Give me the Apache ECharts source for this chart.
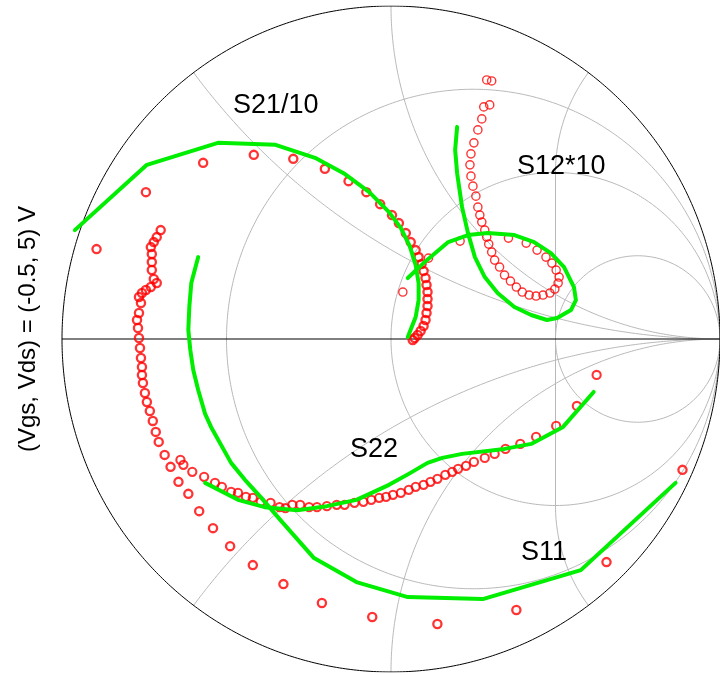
<!DOCTYPE html>
<html>
<head>
<meta charset="utf-8">
<script src="https://cdn.jsdelivr.net/npm/echarts@6/dist/echarts.min.js"></script>
<style>
  html, body { margin: 0; padding: 0; background: #ffffff; }
  #chart { width: 720px; height: 675px; }
</style>
</head>
<body>
<div id="chart"></div>
<script>
// Smith chart grid: normalized resistance circles and reactance arcs
const resistanceCircles = [1 / 3, 1, 3];
// each reactance arc runs from r = 0 up to rMax
const reactanceArcs = [0.5, 1, 2, -0.5, -1, -2];
const reactanceArcEnd = [Infinity, Infinity, 1, Infinity, Infinity, 1];
// straight guide Re(Gamma) = 0.5 joining the truncated |x| = 2 arcs
const guideRe = 0.5;
const guideIm = [-0.5, 0.5];

// Reflection coefficients [re, im] : measured points
const s11Meas = [
  [0.886, -0.393], [0.655, -0.670], [0.381, -0.814], [0.141, -0.856], [-0.057, -0.835],
  [-0.210, -0.793], [-0.327, -0.736], [-0.420, -0.679], [-0.489, -0.622], [-0.541, -0.568],
  [-0.583, -0.517], [-0.616, -0.465], [-0.646, -0.429], [-0.670, -0.384], [-0.688, -0.348],
  [-0.706, -0.309], [-0.715, -0.279], [-0.724, -0.246], [-0.733, -0.216], [-0.742, -0.189],
  [-0.748, -0.162], [-0.754, -0.132], [-0.757, -0.108], [-0.757, -0.084], [-0.760, -0.057],
  [-0.763, -0.027], [-0.766, 0.003], [-0.769, 0.033], [-0.772, 0.057], [-0.766, 0.078],
  [-0.760, 0.108], [-0.766, 0.126], [-0.757, 0.138], [-0.745, 0.147], [-0.730, 0.156],
  [-0.712, 0.168], [-0.721, 0.180], [-0.727, 0.207], [-0.727, 0.231], [-0.727, 0.255],
  [-0.730, 0.276], [-0.721, 0.291], [-0.712, 0.306], [-0.700, 0.327]
];
const s22Meas = [
  [0.625, -0.108], [0.565, -0.201], [0.502, -0.261], [0.441, -0.294], [0.393, -0.315],
  [0.348, -0.330], [0.315, -0.345], [0.285, -0.357], [0.252, -0.369], [0.228, -0.381],
  [0.204, -0.390], [0.186, -0.399], [0.165, -0.408], [0.141, -0.420], [0.120, -0.429],
  [0.099, -0.438], [0.075, -0.444], [0.054, -0.453], [0.030, -0.462], [0.006, -0.468],
  [-0.015, -0.474], [-0.036, -0.477], [-0.060, -0.483], [-0.084, -0.489], [-0.111, -0.492],
  [-0.141, -0.498], [-0.165, -0.498], [-0.195, -0.502], [-0.225, -0.505], [-0.249, -0.505],
  [-0.276, -0.498], [-0.300, -0.498], [-0.321, -0.508], [-0.339, -0.505], [-0.366, -0.492],
  [-0.396, -0.489], [-0.420, -0.477], [-0.441, -0.474], [-0.465, -0.462], [-0.486, -0.459],
  [-0.514, -0.444], [-0.535, -0.432], [-0.568, -0.414], [-0.604, -0.399], [-0.631, -0.378],
  [-0.640, -0.363]
];
const s21Meas = [
  [-0.895, 0.270], [-0.745, 0.441], [-0.571, 0.529], [-0.417, 0.553], [-0.297, 0.541],
  [-0.201, 0.511], [-0.129, 0.474], [-0.075, 0.441], [-0.033, 0.405], [0.003, 0.372],
  [0.024, 0.348], [0.045, 0.318], [0.060, 0.291], [0.075, 0.267], [0.084, 0.246],
  [0.093, 0.225], [0.099, 0.204], [0.105, 0.183], [0.108, 0.162], [0.111, 0.141],
  [0.111, 0.120], [0.111, 0.099], [0.108, 0.078], [0.105, 0.057], [0.099, 0.039],
  [0.090, 0.024], [0.081, 0.012], [0.072, 0.003], [0.066, -0.003]
];
const s12Meas = [
  [0.036, 0.141], [0.114, 0.243], [0.210, 0.294], [0.357, 0.303], [0.411, 0.288],
  [0.444, 0.267], [0.471, 0.246], [0.489, 0.228], [0.502, 0.207], [0.511, 0.186],
  [0.508, 0.168], [0.498, 0.150], [0.483, 0.138], [0.462, 0.132], [0.441, 0.129],
  [0.420, 0.132], [0.399, 0.141], [0.381, 0.156], [0.363, 0.174], [0.345, 0.192],
  [0.330, 0.216], [0.315, 0.237], [0.306, 0.261], [0.297, 0.285], [0.291, 0.306],
  [0.285, 0.327], [0.276, 0.351], [0.270, 0.372], [0.264, 0.396], [0.258, 0.429],
  [0.249, 0.459], [0.243, 0.489], [0.240, 0.523], [0.243, 0.556], [0.252, 0.589],
  [0.264, 0.628], [0.276, 0.661], [0.282, 0.697], [0.300, 0.703], [0.291, 0.778],
  [0.306, 0.775]
];

// Reflection coefficients [re, im] : model curves
const s11Model = [
  [0.865, -0.432], [0.577, -0.694], [0.279, -0.781], [0.051, -0.775], [-0.105, -0.730],
  [-0.234, -0.658], [-0.336, -0.544], [-0.396, -0.475], [-0.444, -0.423], [-0.486, -0.372],
  [-0.547, -0.264], [-0.565, -0.225], [-0.586, -0.153], [-0.601, -0.093], [-0.610, -0.033],
  [-0.616, 0.027], [-0.613, 0.096], [-0.607, 0.168], [-0.586, 0.246]
];
const s22Model = [
  [0.616, -0.159], [0.523, -0.264], [0.426, -0.315], [0.345, -0.330], [0.216, -0.345],
  [0.156, -0.357], [0.111, -0.372], [0.054, -0.405], [-0.006, -0.438], [-0.105, -0.483],
  [-0.195, -0.502], [-0.285, -0.514], [-0.384, -0.505], [-0.465, -0.483], [-0.565, -0.432]
];
const s21Model = [
  [-0.961, 0.327], [-0.742, 0.523], [-0.526, 0.589], [-0.351, 0.583], [-0.231, 0.544],
  [-0.144, 0.498], [-0.066, 0.441], [-0.006, 0.381], [0.030, 0.333], [0.057, 0.279],
  [0.075, 0.222], [0.084, 0.168], [0.084, 0.117], [0.075, 0.066], [0.051, 0.006]
];
const s12Model = [
  [0.051, 0.183], [0.099, 0.228], [0.174, 0.291], [0.234, 0.312], [0.294, 0.318],
  [0.375, 0.312], [0.435, 0.291], [0.486, 0.258], [0.526, 0.216], [0.556, 0.156],
  [0.562, 0.117], [0.547, 0.087], [0.505, 0.063], [0.474, 0.057], [0.426, 0.072],
  [0.375, 0.096], [0.324, 0.138], [0.285, 0.186], [0.255, 0.246], [0.234, 0.318],
  [0.216, 0.396], [0.201, 0.498], [0.195, 0.568], [0.201, 0.637]
];

const curveLabels = ['S21/10', 'S12*10', 'S22', 'S11'];
const sideTitle = '(Vgs, Vds) = (-0.5, 5) V';

// z = r + jx  ->  Gamma = (z - 1) / (z + 1)
function gammaOf(r, x) {
  const a = r - 1, c = r + 1;
  const den = c * c + x * x;
  return [(a * c + x * x) / den, (x * c - a * x) / den];
}

function resistanceCurve(r) {
  const pts = [];
  const n = 720;
  for (let i = 0; i <= n; i++) {
    const t = -Math.PI / 2 + 1e-4 + (Math.PI - 2e-4) * i / n;
    pts.push(gammaOf(r, Math.tan(t)));
  }
  return pts;
}

function reactanceCurve(x, rMax) {
  const pts = [];
  const n = 600;
  const tEnd = isFinite(rMax) ? Math.atan(rMax) : Math.PI / 2 - 1e-4;
  for (let i = 0; i <= n; i++) {
    const t = tEnd * i / n;
    pts.push(gammaOf(Math.tan(t), x));
  }
  return pts;
}

const gridColor = '#b8b8b8';
const series = [];

resistanceCircles.forEach(r => series.push({
  type: 'line', data: resistanceCurve(r), showSymbol: false, silent: true,
  lineStyle: { color: gridColor, width: 1 }, z: 1
}));
reactanceArcs.forEach((x, i) => series.push({
  type: 'line', data: reactanceCurve(x, reactanceArcEnd[i]), showSymbol: false, silent: true,
  lineStyle: { color: gridColor, width: 1 }, z: 1
}));
series.push({
  type: 'line', data: guideIm.map(v => [guideRe, v]), showSymbol: false, silent: true,
  lineStyle: { color: gridColor, width: 1 }, z: 1
});
// outer boundary (r = 0) and real axis
series.push({
  type: 'line', data: resistanceCurve(0), showSymbol: false, silent: true,
  lineStyle: { color: '#000000', width: 1 }, z: 2
});
series.push({
  type: 'line', data: [[-1, 0], [1, 0]], showSymbol: false, silent: true,
  lineStyle: { color: '#000000', width: 1 }, z: 2
});

const measStyle = w => ({ color: 'rgba(0,0,0,0)', borderColor: '#ff0000', borderWidth: w });
[[s11Meas, 2.3], [s22Meas, 2.1], [s21Meas, 2.3], [s12Meas, 1.4]].forEach(([d, w]) => series.push({
  type: 'scatter', data: d, symbol: 'circle', symbolSize: 8.2, silent: true,
  itemStyle: measStyle(w), z: 3
}));
[s11Model, s22Model, s21Model, s12Model].forEach(d => series.push({
  type: 'line', data: d, showSymbol: false, silent: true,
  lineStyle: { color: '#00ee00', width: 4, join: 'round', cap: 'round' }, z: 4
}));

const chart = echarts.init(document.getElementById('chart'), null, { renderer: 'canvas' });

const labelFont = '27px "Liberation Sans", Arial, sans-serif';
chart.setOption({
  animation: false,
  backgroundColor: '#ffffff',
  grid: { left: 62, top: 6, width: 666, height: 666 },
  xAxis: { type: 'value', min: -1, max: 1, show: false },
  yAxis: { type: 'value', min: -1, max: 1, show: false },
  series: series,
  graphic: [
    { type: 'text', x: 233, y: 106, z: 10, style: { text: curveLabels[0], font: labelFont, fill: '#000', align: 'left', verticalAlign: 'middle' } },
    { type: 'text', x: 517, y: 167, z: 10, style: { text: curveLabels[1], font: labelFont, fill: '#000', align: 'left', verticalAlign: 'middle' } },
    { type: 'text', x: 350, y: 450, z: 10, style: { text: curveLabels[2], font: labelFont, fill: '#000', align: 'left', verticalAlign: 'middle' } },
    { type: 'text', x: 521, y: 553, z: 10, style: { text: curveLabels[3], font: labelFont, fill: '#000', align: 'left', verticalAlign: 'middle' } },
    { type: 'text', x: 28, y: 329, rotation: Math.PI / 2, z: 10,
      style: { text: sideTitle, font: '24px "Liberation Sans", Arial, sans-serif', fill: '#000', align: 'center', verticalAlign: 'middle' } }
  ]
});
</script>
</body>
</html>
